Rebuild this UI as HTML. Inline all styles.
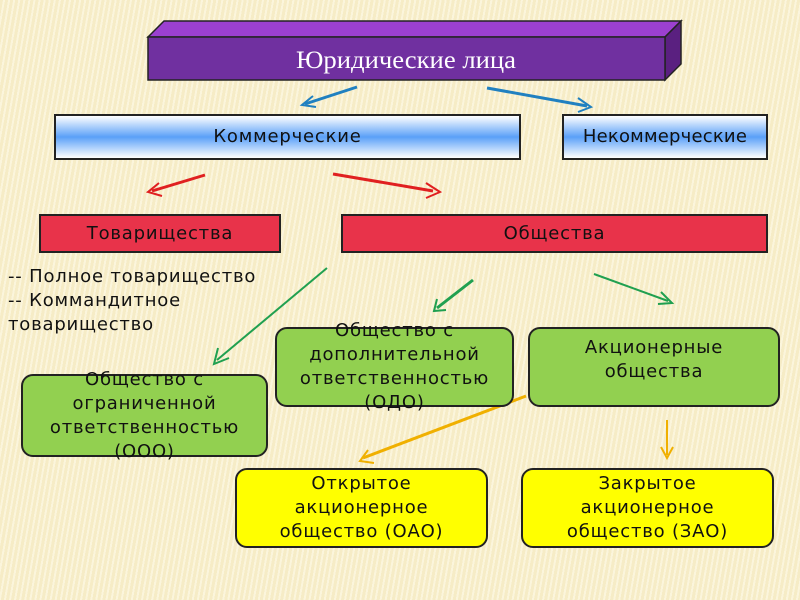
<!DOCTYPE html>
<html><head><meta charset="utf-8"><style>
body{margin:0;width:800px;height:600px;overflow:hidden;background:repeating-linear-gradient(100deg,#f6ecc6 0,#f6ecc6 3px,#fbf5dc 3px,#fbf5dc 5px);font-family:"DejaVu Sans","Liberation Sans",sans-serif;position:relative}
.b{position:absolute;box-sizing:border-box;display:flex;align-items:center;justify-content:center;text-align:center;color:#111;font-size:18px;letter-spacing:0.8px;line-height:24px;white-space:nowrap}
.bl{border:2px solid #222;background:linear-gradient(#fff,#5aa0f8 50%,#fff)}
.r{border:2px solid #222;background:#e8334a}
.g{border:2px solid #222;background:#92d050;border-radius:12px}
.y{border:2px solid #222;background:#ffff00;border-radius:12px}
</style></head><body>
<svg width="800" height="600" style="position:absolute;left:0;top:0">
<polygon points="148,37 164,21 681,21 665,37" fill="#9b40d0" stroke="#222" stroke-width="1.5"/>
<polygon points="665,37 681,21 681,64 665,80" fill="#5a2080" stroke="#222" stroke-width="1.5"/>
<rect x="148" y="37" width="517" height="43" fill="#7030a0" stroke="#222" stroke-width="1.5"/>
<text x="406" y="68" fill="#fff" font-family="Liberation Serif,serif" font-size="25" text-anchor="middle" textLength="220" lengthAdjust="spacingAndGlyphs">Юридические лица</text>
<g fill="none" stroke-width="3">
<path d="M357,87 L305,104" stroke="#2080c0"/><path d="M313,96 L302,105 L316,107" stroke="#2080c0" stroke-width="2"/>
<path d="M487,88 L587,106" stroke="#2080c0"/><path d="M578,98 L591,107 L578,112" stroke="#2080c0" stroke-width="2"/>
<path d="M205,175 L152,191" stroke="#e02020"/><path d="M159,183 L148,192 L162,196" stroke="#e02020" stroke-width="2"/>
<path d="M333,174 L433,191" stroke="#e02020"/><path d="M426,183 L440,192 L426,198" stroke="#e02020" stroke-width="2"/>
<path d="M327,268 L217,360" stroke="#20a050" stroke-width="2"/><path d="M218,348 L214,364 L229,358" stroke="#20a050" stroke-width="2"/>
<path d="M473,280 L437,308" stroke="#20a050"/><path d="M437,299 L434,311 L446,310" stroke="#20a050" stroke-width="2"/>
<path d="M594,274 L668,301" stroke="#20a050" stroke-width="2"/><path d="M661,292 L672,303 L658,304" stroke="#20a050" stroke-width="2"/>
<path d="M526,396 L363,458" stroke="#f0b000"/><path d="M368,450 L360,461 L374,463" stroke="#f0b000" stroke-width="2"/>
<path d="M667,420 L667,455" stroke="#f0b000" stroke-width="2"/><path d="M661,447 L667,458 L673,447" stroke="#f0b000" stroke-width="2"/>
</g>
</svg>
<div class="b bl" style="left:54px;top:114px;width:467px;height:46px">Коммерческие</div>
<div class="b bl" style="left:562px;top:114px;width:206px;height:46px;letter-spacing:0.2px">Некоммерческие</div>
<div class="b r" style="left:39px;top:214px;width:242px;height:39px">Товарищества</div>
<div class="b r" style="left:341px;top:214px;width:427px;height:39px">Общества</div>
<div style="position:absolute;left:8px;top:265px;font-size:18px;letter-spacing:0.8px;line-height:24px;color:#111">-- Полное товарищество<br>-- Коммандитное<br>товарищество</div>
<div class="b g" style="left:21px;top:374px;width:247px;height:83px">Общество с<br>ограниченной<br>ответственностью<br>(ООО)</div>
<div class="b g" style="left:275px;top:327px;width:239px;height:80px">Общество с<br>дополнительной<br>ответственностью<br>(ОДО)</div>
<div class="b g" style="left:528px;top:327px;width:252px;height:80px;padding-bottom:14px">Акционерные<br>общества</div>
<div class="b y" style="left:235px;top:468px;width:253px;height:80px">Открытое<br>акционерное<br>общество (ОАО)</div>
<div class="b y" style="left:521px;top:468px;width:253px;height:80px">Закрытое<br>акционерное<br>общество (ЗАО)</div>
</body></html>
